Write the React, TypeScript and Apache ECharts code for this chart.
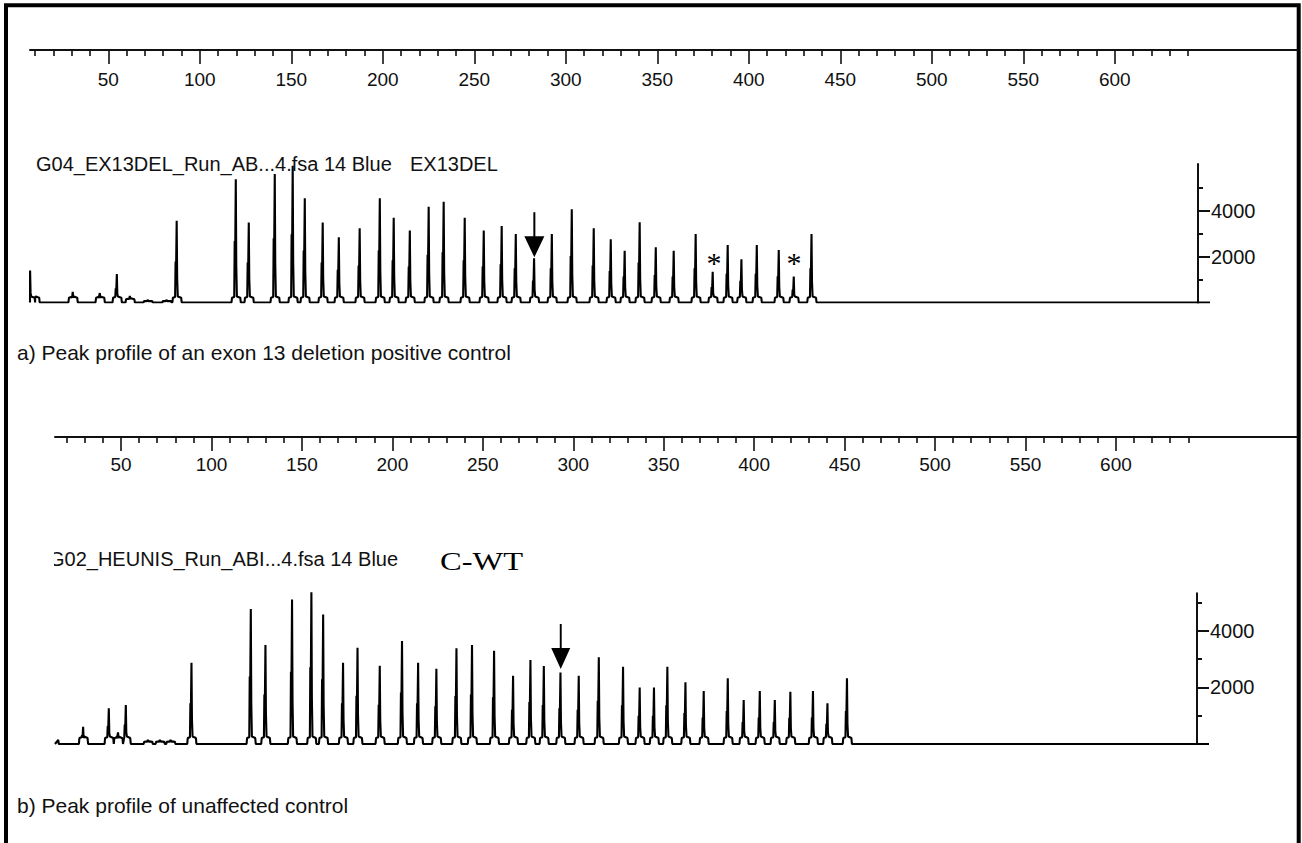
import React, { useEffect, useRef } from "react";
import * as echarts from "echarts";

// ---------- data ----------
const rulerMajorTicks = [50, 100, 150, 200, 250, 300, 350, 400, 450, 500, 550, 600];
const topRulerMinorTicks = [10, 20, 30, 40, 60, 70, 80, 90, 110, 120, 130, 140, 160, 170, 180, 190, 210, 220, 230, 240, 260, 270, 280, 290, 310, 320, 330, 340, 360, 370, 380, 390, 410, 420, 430, 440, 460, 470, 480, 490, 510, 520, 530, 540, 560, 570, 580, 590, 610, 620, 630, 640];
const bottomRulerMinorTicks = [20, 30, 40, 60, 70, 80, 90, 110, 120, 130, 140, 160, 170, 180, 190, 210, 220, 230, 240, 260, 270, 280, 290, 310, 320, 330, 340, 360, 370, 380, 390, 410, 420, 430, 440, 460, 470, 480, 490, 510, 520, 530, 540, 560, 570, 580, 590, 610, 620, 630, 640];
const rfuMajorTicks = [2000, 4000];
const rfuMinorTicks = [1000, 3000, 5000];

// panel a) EX13DEL positive control: peak size (bp) and height (RFU)
const topPeakSizes = [7.4, 9.9, 30.7, 45.5, 54.8, 61.9, 71.7, 82, 87.5, 119.8, 126.9, 141.1, 150.9, 157.5, 167.3, 176.1, 187.5, 198.5, 206.1, 214.9, 225.2, 233.4, 244.9, 255.3, 265.1, 272.8, 282.8, 292.5, 303.4, 315.4, 324.7, 332.3, 340.5, 349.3, 359.1, 371.1, 380.4, 388.6, 396.1, 404.5, 416.5, 424.7, 434.4];
const topPeakHeights = [1400, 760, 470, 410, 1240, 290, 120, 120, 3570, 5380, 3490, 5610, 5970, 4550, 3490, 2850, 3240, 4550, 3700, 3140, 4180, 4400, 3700, 3140, 3340, 2990, 1930, 2990, 4070, 3240, 2760, 2260, 3500, 2410, 2260, 2990, 1340, 2510, 1890, 2510, 2290, 1130, 2990];

// panel b) unaffected control C-WT
const bottomPeakSizes = [13, 29.2, 43.4, 48.5, 52.8, 65, 71.6, 77.5, 89.1, 121.9, 130, 144.7, 155.4, 161.9, 172.9, 180.9, 193.2, 205.5, 214.4, 224.5, 235.6, 244.2, 256.4, 266.9, 276.5, 283.9, 293.1, 303.2, 314.3, 327.7, 336.9, 344.8, 352.2, 362.2, 372.3, 385.6, 394.4, 403.3, 411.6, 420.2, 432.7, 440.7, 451.5];
const bottomPeakHeights = [290, 610, 1260, 410, 1375, 150, 150, 150, 2870, 4765, 3495, 5105, 5410, 4575, 2870, 3400, 2765, 3635, 2870, 2660, 3380, 3495, 3295, 2410, 2965, 2755, 2520, 2410, 3060, 2730, 1990, 1990, 2730, 2180, 1870, 2320, 1555, 1870, 1555, 1845, 1870, 1435, 2320];

// annotations: [size, RFU]
const topArrow = [282.8, 1975];
const topAsterisks = [[381.0, 1900], [424.7, 1900]];
const bottomArrow = [293.1, 2645];

const topTitle = "G04_EX13DEL_Run_AB...4.fsa 14 Blue";
const topSample = "EX13DEL";
const bottomTitle = "G02_HEUNIS_Run_ABI...4.fsa 14 Blue";
const bottomSample = "C-WT";
const captionA = "a) Peak profile of an exon 13 deletion positive control";
const captionB = "b) Peak profile of unaffected control";

// ---------- helpers ----------
const SANS = "'Liberation Sans', Arial, Helvetica, sans-serif";
const SERIF = "'Liberation Serif', 'Times New Roman', serif";
const INK = "#111";

function buildTrace(sizes: number[], heights: number[], xmin: number, xmax: number) {
  const pts: number[][] = [[xmin, 0]];
  sizes.forEach((p, i) => {
    const h = heights[i];
    const base = Math.min(210, h * 0.5);
    const shape = [
      [p - 2.5, 0],
      [p - 2.2, base],
      [p - 1.0, base * 1.15],
      [p - 0.75, Math.max(h * 0.5, base)],
      [p - 0.5, Math.max(h * 0.38, base)],
      [p - 0.15, h],
      [p + 0.12, Math.max(h * 0.3, base)],
      [p + 0.45, base * 1.25],
      [p + 2.3, base],
      [p + 2.6, 0],
    ];
    for (const pt of shape) if (pt[0] > pts[pts.length - 1][0]) pts.push(pt);
  });
  pts.push([xmax, 0]);
  return pts;
}

const ARROW = "path://M9,0L11,0L11,24L20,24L10,45L0,24L9,24Z";

function rulerAxes(gridIndex: number, min: number, max: number, minor: number[], margin: number) {
  return [
    {
      gridIndex, type: "value", min, max, position: "bottom",
      axisLine: { show: true, lineStyle: { color: INK, width: 2 } },
      axisTick: { show: true, customValues: rulerMajorTicks, length: 14, lineStyle: { color: INK, width: 1.6 } },
      axisLabel: { show: true, customValues: rulerMajorTicks, margin, fontSize: 19, color: INK, fontFamily: SANS, formatter: (v: number) => String(v) },
      splitLine: { show: false },
    },
    {
      gridIndex, type: "value", min, max, position: "bottom",
      axisLine: { show: false },
      axisTick: { show: true, customValues: minor, length: 6, lineStyle: { color: INK, width: 1.6 } },
      axisLabel: { show: false },
      splitLine: { show: false },
    },
  ];
}

function rfuAxes(gridIndex: number, max: number) {
  return [
    {
      gridIndex, type: "value", min: 0, max, position: "right", offset: -12,
      axisLine: { show: true, lineStyle: { color: INK, width: 2 } },
      axisTick: { show: true, customValues: rfuMajorTicks, length: 12, lineStyle: { color: INK, width: 2 } },
      axisLabel: { show: true, customValues: rfuMajorTicks, margin: 13, fontSize: 20, color: INK, fontFamily: SANS, formatter: (v: number) => String(v) },
      splitLine: { show: false },
    },
    {
      gridIndex, type: "value", min: 0, max, position: "right", offset: -12,
      axisLine: { show: false },
      axisTick: { show: true, customValues: rfuMinorTicks, length: 5, lineStyle: { color: INK, width: 2 } },
      axisLabel: { show: false },
      splitLine: { show: false },
    },
  ];
}

export default function App() {
  const ref = useRef<HTMLDivElement>(null);
  useEffect(() => {
    document.body.style.margin = "0";
    if (!ref.current) return;
    const chart = echarts.init(ref.current, null, { renderer: "svg" });

    const topX = [7.2, 652.0];
    const botX = [13.5, 651.5];

    const option: any = {
      animation: false,
      backgroundColor: "#fff",
      grid: [
        { left: 30, width: 1267, top: 49, height: 1, containLabel: false },
        { left: 30, width: 1180, top: 164, height: 138.5, containLabel: false },
        { left: 55, width: 1242, top: 436, height: 1, containLabel: false },
        { left: 55, width: 1154, top: 593.3, height: 150.7, containLabel: false },
      ],
      xAxis: [
        ...rulerAxes(0, 7.2, 699.6, topRulerMinorTicks, 20),
        { gridIndex: 1, type: "value", min: topX[0], max: topX[1], show: false },
        ...rulerAxes(2, 13.5, 700.1, bottomRulerMinorTicks, 18),
        { gridIndex: 3, type: "value", min: botX[0], max: botX[1], show: false },
      ],
      yAxis: [
        { gridIndex: 0, type: "value", show: false, min: 0, max: 1 },
        ...rfuAxes(1, 6050),
        { gridIndex: 2, type: "value", show: false, min: 0, max: 1 },
        ...rfuAxes(3, 5320),
      ],
      series: [
        {
          type: "line", xAxisIndex: 2, yAxisIndex: 1,
          data: buildTrace(topPeakSizes, topPeakHeights, topX[0], topX[1]),
          showSymbol: false, symbol: "none", lineStyle: { color: "#000", width: 2.1 },
          markPoint: {
            data: [
              { coord: topArrow, symbol: ARROW, symbolSize: [20, 45], symbolOffset: [0, -22.5], itemStyle: { color: "#000" }, label: { show: false } },
              ...topAsterisks.map((c) => ({
                coord: c, symbol: "circle", symbolSize: 1, itemStyle: { color: "rgba(0,0,0,0)" },
                label: { show: true, formatter: "*", position: "inside", fontSize: 30, fontFamily: SERIF, color: "#000", offset: [0, 3] },
              })),
            ],
          },
        },
        {
          type: "line", xAxisIndex: 5, yAxisIndex: 4,
          data: buildTrace(bottomPeakSizes, bottomPeakHeights, botX[0], botX[1]),
          showSymbol: false, symbol: "none", lineStyle: { color: "#000", width: 2.1 },
          markPoint: {
            data: [
              { coord: bottomArrow, symbol: ARROW, symbolSize: [19, 45], symbolOffset: [0, -22.5], itemStyle: { color: "#000" }, label: { show: false } },
            ],
          },
        },
      ],
      graphic: [
        { type: "rect", shape: { x: 6, y: 5.3, width: 1292.7, height: 900 }, style: { fill: "none", stroke: "#000", lineWidth: 4 }, silent: true },
        { type: "text", x: 36, y: 164, style: { text: topTitle, fontSize: 20, fontFamily: SANS, fill: INK, verticalAlign: "middle" } },
        { type: "text", x: 410, y: 164, style: { text: topSample, fontSize: 20, fontFamily: SANS, fill: INK, verticalAlign: "middle" } },
        { type: "text", x: 49, y: 559, style: { text: bottomTitle, fontSize: 20, fontFamily: SANS, fill: INK, verticalAlign: "middle" } },
        { type: "rect", shape: { x: 10, y: 540, width: 44, height: 36 }, style: { fill: "#fff" }, silent: true },
        { type: "text", x: 440, y: 561, scaleX: 1.3, style: { text: bottomSample, fontSize: 25, fontFamily: SERIF, fill: "#000", verticalAlign: "middle" } },
        { type: "text", x: 17, y: 352, style: { text: captionA, fontSize: 21, fontFamily: SANS, fill: INK, verticalAlign: "middle" } },
        { type: "text", x: 17, y: 805, style: { text: captionB, fontSize: 21, fontFamily: SANS, fill: INK, verticalAlign: "middle" } },
      ],
    };
    chart.setOption(option);
    return () => chart.dispose();
  }, []);
  return <div ref={ref} style={{ width: 1302, height: 843 }} />;
}
